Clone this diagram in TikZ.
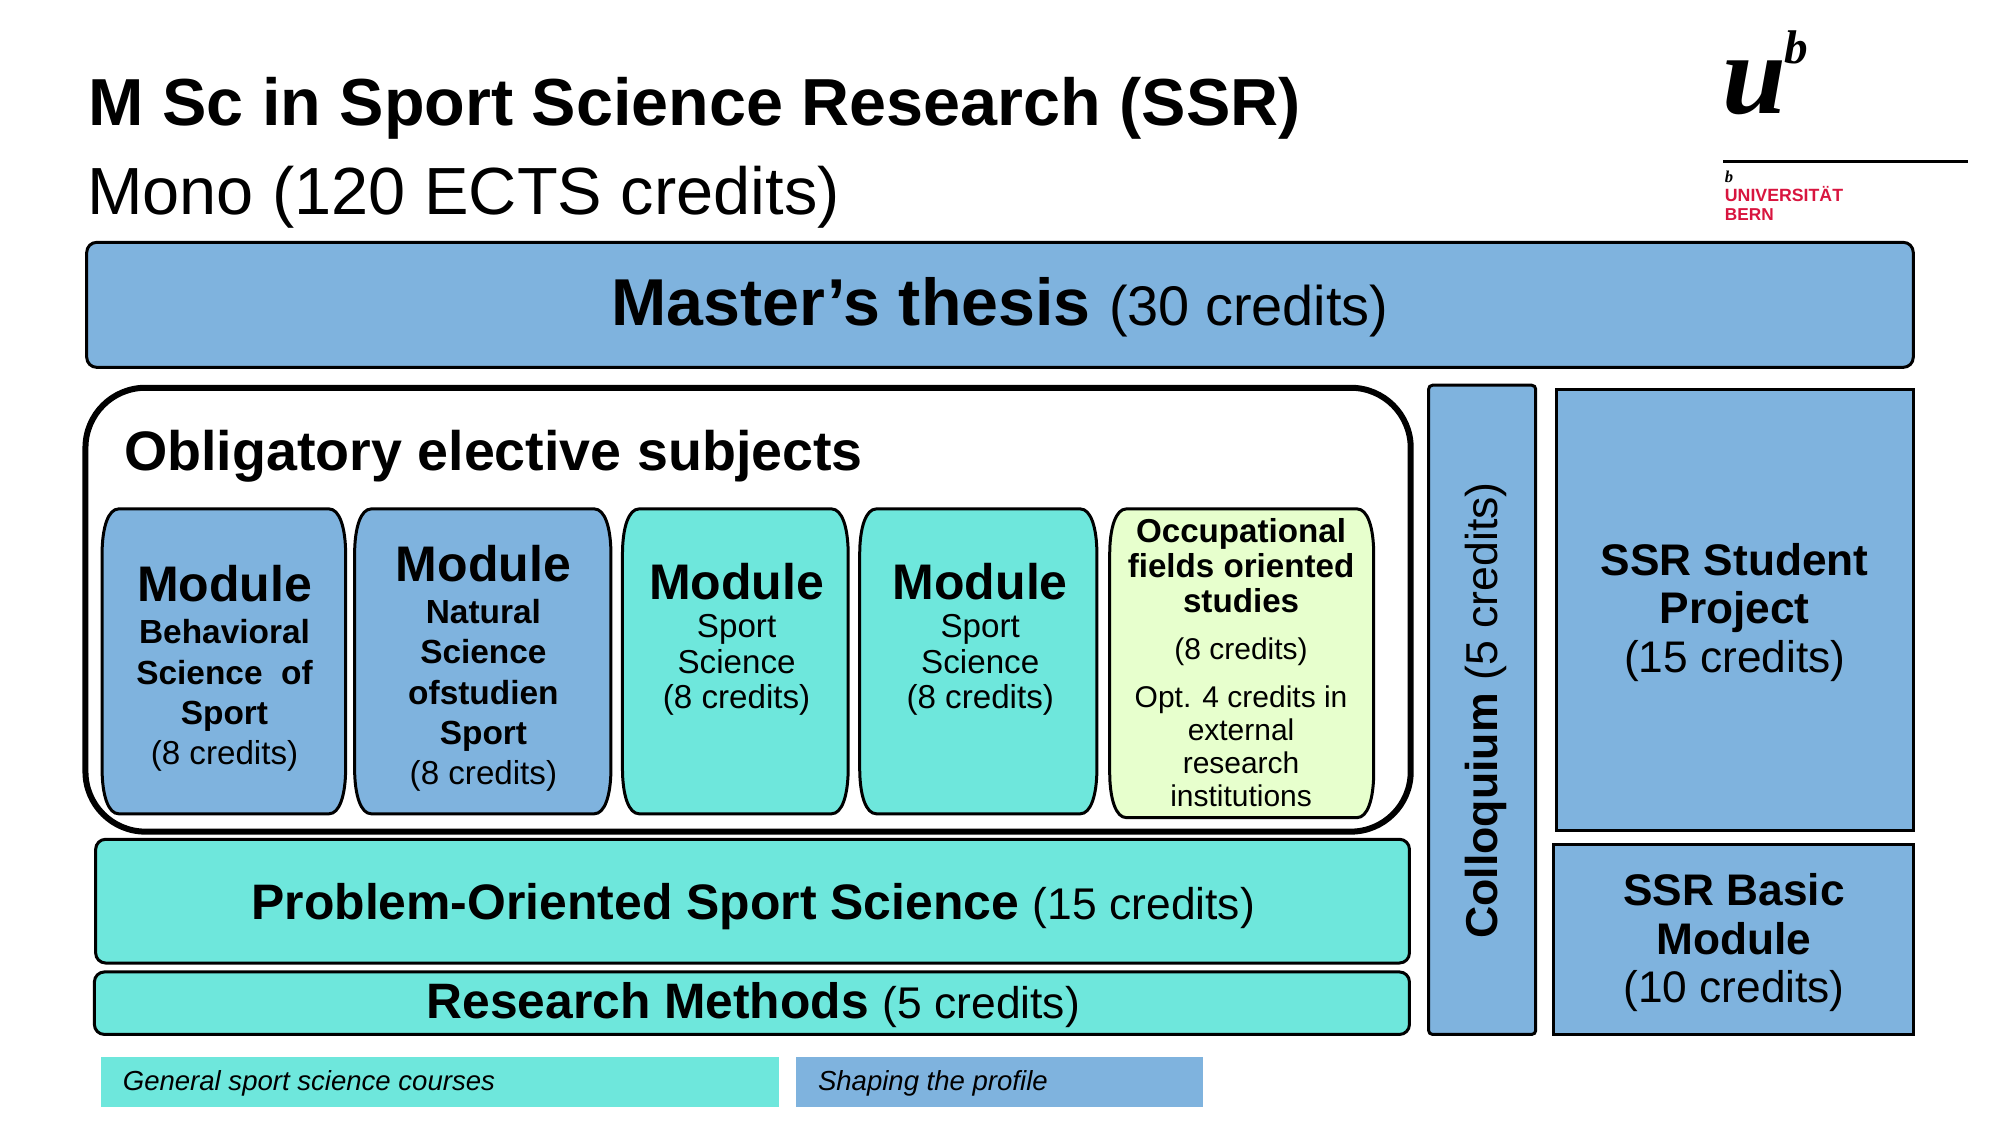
\documentclass[tikz,border=0pt]{standalone}
\usepackage{fontspec}
\setmainfont{Liberation Sans}
\newfontfamily\logofont{Liberation Serif}
\newcommand{\fz}[2]{\pgfmathsetmacro\fzs{#1*0.6378}\pgfmathsetmacro\fzl{#2*0.6378}\fontsize{\fzs pt}{\fzl pt}\selectfont}
\definecolor{blueb}{HTML}{7FB3DE}
\definecolor{tealb}{HTML}{6EE7DC}
\definecolor{greenb}{HTML}{E7FFCD}
\definecolor{unired}{HTML}{D8153F}
\tikzset{
  bx/.style={draw=black,line width=1.5pt,rounded corners=5pt},
  sq/.style={draw=black,line width=1.5pt},
  txt/.style={align=center,inner sep=0pt,text=black},
  lead/.style={txt,font=\fz{10}{#1}},
  lbl/.style={anchor=base west,inner sep=0pt,text=black},
}
% flared module box: x1 y1 x2 y2 fill
\newcommand{\modshape}[5]{%
  \path[draw=black,line width=1.5pt,fill=#5]
   (#1+13,#2) -- (#3-13,#2) .. controls (#3-5,#2) and (#3,#2+14) .. (#3,#2+36)
   -- (#3,#4-36) .. controls (#3,#4-14) and (#3-5,#4) .. (#3-13,#4)
   -- (#1+13,#4) .. controls (#1+5,#4) and (#1,#4-14) .. (#1,#4-36)
   -- (#1,#2+36) .. controls (#1,#2+14) and (#1+5,#2) .. (#1+13,#2) -- cycle;}
\begin{document}
\begin{tikzpicture}[x=0.6378pt,y=-0.6378pt]
\useasboundingbox (0,0) rectangle (1568,882);
% title
\node[lbl] (title) at (69,98) {\fz{52.15}{52}\bfseries M Sc in Sport Science Research (SSR)};
\node[lbl] (sub) at (68,168) {\fz{52.3}{52}Mono (120 ECTS credits)};
% logo
\node[lbl] (logou) at (1350,89) {\logofont\fz{90}{90}\bfseries\itshape u};
\node[lbl] (logob) at (1399,50) {\logofont\fz{37}{37}\bfseries\itshape b};
\coordinate (la) at (1351,127);
\coordinate (lb) at (1543,127);
\draw[line width=1.5pt] (la) -- (lb);
\node[lbl] (logob2) at (1352,143) {\logofont\fz{13}{13}\bfseries\itshape b};
\node[lbl,text=unired] (uni) at (1352,158) {\fz{13.9}{13.5}\bfseries UNIVERSITÄT};
\node[lbl,text=unired] (bern) at (1352,173) {\fz{13.5}{13.5}\bfseries BERN};
% thesis
\path[bx,fill=blueb] (68,190) rectangle (1500,288);
\node[txt] (thesis) at (784,241) {\fz{52}{52}\bfseries Master’s thesis \fz{43.8}{43}\mdseries(30 credits)};
% obligatory
\path[draw=black,line width=3pt,fill=white,rounded corners=30pt] (67,304) rectangle (1106,652);
\node[lbl] (oblig) at (97,369) {\fz{43.6}{46}\bfseries Obligatory elective subjects};
% modules
\modshape{80}{399}{271}{638}{blueb}
\node[lead=31.5] (m1) at (176,524) {\fz{39.2}{40}\bfseries Module\\[1pt]\fz{26.2}{31.5}\bfseries Behavioral\\\fz{26.2}{31.5}\bfseries Science\ \ of\\\fz{26.2}{31.5}\bfseries Sport\\\fz{26}{31.5}\mdseries (8 credits)};
\modshape{278}{399}{479}{638}{blueb}
\node[lead=31.5] (m2) at (379,524) {\fz{39.2}{40}\bfseries Module\\[1pt]\fz{26.2}{31.5}\bfseries Natural\\\fz{26.2}{31.5}\bfseries Science\\\fz{26.2}{31.5}\bfseries ofstudien\\\fz{26.2}{31.5}\bfseries Sport\\\fz{26}{31.5}\mdseries (8 credits)};
\modshape{488}{399}{665}{638}{tealb}
\node[lead=28] (m3) at (577.5,501.5) {\fz{39.2}{40}\bfseries Module\\[1pt]\fz{26}{28}\mdseries Sport\\\fz{26}{28}\mdseries Science\\\fz{26}{28}\mdseries (8 credits)};
\modshape{674}{399}{860}{638}{tealb}
\node[lead=28] (m4) at (768.5,501.5) {\fz{39.2}{40}\bfseries Module\\[1pt]\fz{26}{28}\mdseries Sport\\\fz{26}{28}\mdseries Science\\\fz{26}{28}\mdseries (8 credits)};
\modshape{870}{399}{1077}{641}{greenb}
\node[lead=26] (m5) at (973,519.5) {\fz{26}{28}\bfseries Occupational\\[1pt]\fz{26}{28}\bfseries fields oriented\\[1pt]\fz{26}{28}\bfseries studies\\[7pt]\fz{23.5}{26}\mdseries (8 credits)\\[7pt]\fz{23.5}{26}\mdseries Opt. 4 credits in\\\fz{23.5}{26}\mdseries external\\\fz{23.5}{26}\mdseries research\\\fz{23.5}{26}\mdseries institutions};
% wide bars
\path[bx,fill=tealb] (75,658) rectangle (1105,755);
\node[txt] (poss) at (590.5,711) {\fz{39.1}{39}\bfseries Problem-Oriented Sport Science \fz{34.8}{34}\mdseries(15 credits)};
\path[bx,fill=tealb] (74,762) rectangle (1105,811);
\node[txt] (rm) at (590.5,788) {\fz{39}{39}\bfseries Research Methods \fz{34.8}{34}\mdseries(5 credits)};
% colloquium
\path[draw=black,line width=1.5pt,rounded corners=2pt,fill=blueb] (1120,302) rectangle (1204,811);
\node[txt,rotate=90] (coll) at (1165,557) {\fz{35}{37}\bfseries Colloquium \fz{35}{36}\mdseries(5 credits)};
% right boxes
\path[sq,fill=blueb] (1220,305) rectangle (1500,651);
\node[lead=38] (stud) at (1360,480) {\fz{34.7}{38}\bfseries SSR Student\\\fz{34.7}{38}\bfseries Project\\\fz{34.7}{38}\mdseries (15 credits)};
\path[sq,fill=blueb] (1218,662) rectangle (1500,811);
\node[lead=38] (basic) at (1359.5,739) {\fz{34.7}{38}\bfseries SSR Basic\\\fz{34.7}{38}\bfseries Module\\\fz{34.7}{38}\mdseries (10 credits)};
% legend
\path[fill=tealb] (79,829) rectangle (611,868);
\node[lbl] (lg1) at (96,855) {\fz{21.6}{23}\itshape General sport science courses};
\path[fill=blueb] (624,829) rectangle (943,868);
\node[lbl] (lg2) at (641,855) {\fz{21.6}{23}\itshape Shaping the profile};
\end{tikzpicture}
\end{document}
